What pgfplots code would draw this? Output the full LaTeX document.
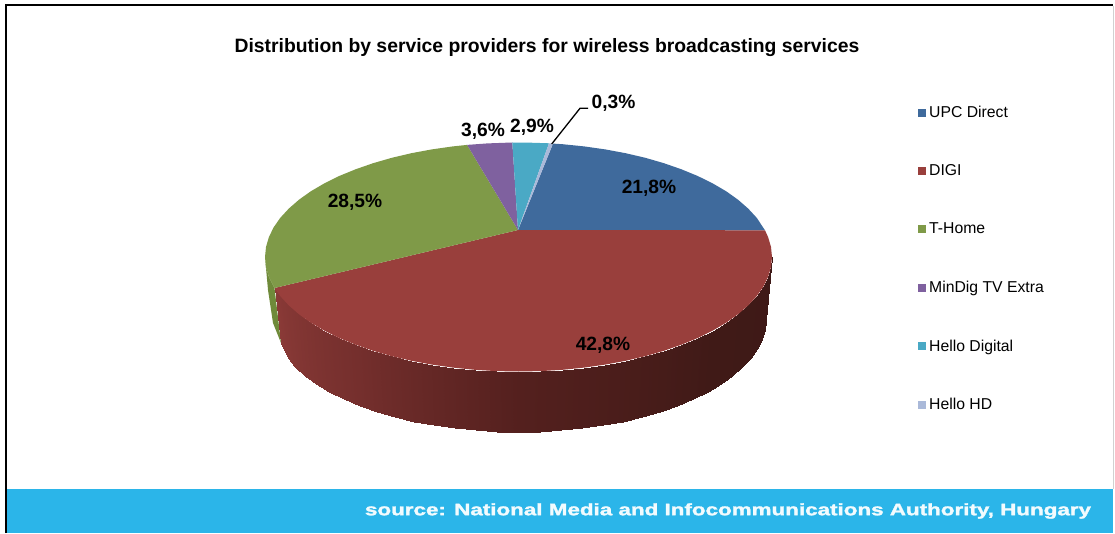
\documentclass[border=0pt]{standalone}
\usepackage{fontspec}
\setmainfont{Liberation Sans}
\newfontfamily\bandfont[FakeBold=1.6]{Liberation Sans Bold}
\usepackage{graphicx}
\usepackage{pgfplots}
\pgfplotsset{compat=1.18}
\definecolor{cUPC}{HTML}{3F6A9C}
\definecolor{cDIGI}{HTML}{993F3C}
\definecolor{cTH}{HTML}{7F9A48}
\definecolor{cMD}{HTML}{7F619F}
\definecolor{cHD}{HTML}{4AA9C5}
\definecolor{cHH}{HTML}{AAB9D9}
\definecolor{cGS}{HTML}{6F8A3A}
\definecolor{band}{HTML}{2BB5E9}
\begin{document}
\begin{tikzpicture}
\begin{axis}[
  scale only axis, width=1115pt, height=533pt,
  xmin=0, xmax=1115, ymin=0, ymax=533, y dir=reverse,
  hide axis, clip=false,
  colormap={side}{rgb255(0)=(62,25,23) rgb255(40)=(64,26,23) rgb255(90)=(84,32,30) rgb255(130)=(117,47,45) rgb255(165)=(138,58,55)},
  legend image code/.code={\path[#1] (0pt,-4pt) rectangle (8pt,4pt);},
  legend cell align=left,
  legend style={at={(axis cs:918,106)}, anchor=north west, draw=none, fill=none,
    font=\fontsize{15.75}{18}\selectfont, row sep=45.7pt, inner sep=0pt,
    nodes={inner xsep=3pt, inner ysep=0pt}},
]
% page and frame
\addplot[fill=white, draw=none, forget plot] coordinates {(0,0) (1115,0) (1115,533) (0,533)} -- cycle;
\addplot[fill=band, draw=none, forget plot] coordinates {(7,489) (1113,489) (1113,533) (7,533)} -- cycle;
\addplot[draw=black!18, line width=1pt, forget plot] coordinates {(1113,6) (1113,489)};
\addplot[draw=black, line width=2pt, forget plot] coordinates {(6,533) (6,5) (1113,5)};
% sides
\addplot[fill=cGS, draw=none, forget plot] coordinates {(265,257) (266,267) (268.9,276.9) (274.5,288) (281,343) (273,323) (268,290)} -- cycle;
\addplot[surf, shader=interp, mesh/cols=2, mesh/ordering=x varies, point meta=explicit, point meta min=0, point meta max=165, forget plot] table[x=x, y=y, meta=m] {
x y m
772 257 0
765.5 320 0
771 267 5
764.6 329.8 5
768.1 276.9 10
761.7 339.4 10
763.4 286.6 15
757.1 349 15
756.7 296.2 20
750.6 358.3 20
748.2 305.4 25
742.4 367.3 25
738 314.3 30
732.4 376 30
726.2 322.7 35
720.8 384.2 35
712.7 330.6 40
707.7 392 40
697.8 338 45
693.2 399.2 45
681.4 344.7 50
677.3 405.8 50
663.9 350.8 55
660.2 411.7 55
645.3 356.2 60
642 417 60
625.6 360.8 65
622.9 421.5 65
605.2 364.6 70
603 425.2 70
584.1 367.6 75
582.4 428.2 75
562.5 369.8 80
561.4 430.3 80
540.6 371.1 85
540 431.6 85
518.5 371.5 90
518.5 432 90
496.4 371.1 95
497 431.6 95
474.5 369.8 100
475.6 430.3 100
452.9 367.6 105
454.6 428.2 105
431.8 364.6 110
434 425.2 110
411.4 360.8 115
414.1 421.5 115
391.8 356.2 120
395 417 120
373.1 350.8 125
376.8 411.7 125
355.6 344.7 130
359.7 405.8 130
339.2 338 135
343.8 399.2 135
324.3 330.6 140
329.3 392 140
310.8 322.7 145
316.2 384.2 145
299 314.3 150
304.6 376 150
288.8 305.4 155
294.6 367.3 155
280.3 296.2 160
288 358.3 160
274.5 288 165
281 343 165
};
% top faces
\addplot[fill=cUPC, draw=none] coordinates {(518,230) (553,143.6) (562.5,144.2) (584.1,146.4) (605.2,149.4) (625.6,153.2) (645.3,157.8) (663.9,163.2) (681.4,169.3) (697.7,176) (712.7,183.4) (726.2,191.3) (738,199.7) (748.2,208.6) (756.7,217.8) (765,230.3)} -- cycle;
\addlegendentry{UPC Direct}
\addplot[fill=cDIGI, draw=none] coordinates {(518,230) (765,230.3) (768.1,237.1) (771,247) (772,257) (771,267) (768.1,276.9) (763.4,286.6) (756.7,296.2) (748.2,305.4) (738,314.3) (726.2,322.7) (712.7,330.6) (697.8,338) (681.4,344.7) (663.9,350.8) (645.3,356.2) (625.6,360.8) (605.2,364.6) (584.1,367.6) (562.5,369.8) (540.6,371.1) (518.5,371.5) (496.4,371.1) (474.5,369.8) (452.9,367.6) (431.8,364.6) (411.4,360.8) (391.8,356.2) (373.1,350.8) (355.6,344.7) (339.2,338) (324.3,330.6) (310.8,322.7) (299,314.3) (288.8,305.4) (280.3,296.2) (274.5,288)} -- cycle;
\addlegendentry{DIGI}
\addplot[fill=cTH, draw=none] coordinates {(518,230) (274.5,288) (268.9,276.9) (265.9,267) (265,257) (266,247) (268.9,237.1) (273.6,227.4) (280.3,217.8) (288.8,208.6) (299,199.7) (310.8,191.3) (324.3,183.4) (339.2,176) (355.6,169.3) (373.1,163.2) (391.8,157.8) (411.4,153.2) (431.8,149.4) (452.9,146.4) (467.1,144.9)} -- cycle;
\addlegendentry{T-Home}
\addplot[fill=cMD, draw=none] coordinates {(518,230) (467.1,144.9) (487.6,143.4) (512.3,142.5)} -- cycle;
\addlegendentry{MinDig TV Extra}
\addplot[fill=cHD, draw=none] coordinates {(518,230) (512.3,142.5) (527.3,142.6) (549,143.3)} -- cycle;
\addlegendentry{Hello Digital}
\addplot[fill=cHH, draw=none] coordinates {(518,230) (549,143.3) (553,143.6)} -- cycle;
\addlegendentry{Hello HD}
% leader
\addplot[draw=black, line width=1.3pt, forget plot] coordinates {(551.7,144) (580,108.3) (588,108.3)};
% texts
\node[font=\fontsize{19.35}{22}\bfseries] at (axis cs:547,47.5) {Distribution by service providers for wireless broadcasting services};
\begin{scope}[every node/.style={font=\fontsize{19.2}{22}\bfseries}]
\node at (axis cs:649,188.5) {21,8\%};
\node at (axis cs:603,345.5) {42,8\%};
\node at (axis cs:355,202) {28,5\%};
\node at (axis cs:483,131.5) {3,6\%};
\node at (axis cs:532,127.5) {2,9\%};
\node at (axis cs:613.5,103.5) {0,3\%};
\end{scope}
\node[text=white!94!band, font=\fontsize{16.5}{18}\bandfont, inner sep=0pt] at (axis cs:728,511) {\resizebox{726pt}{\height}{source: National Media and Infocommunications Authority, Hungary}};
\end{axis}
\end{tikzpicture}
\end{document}
